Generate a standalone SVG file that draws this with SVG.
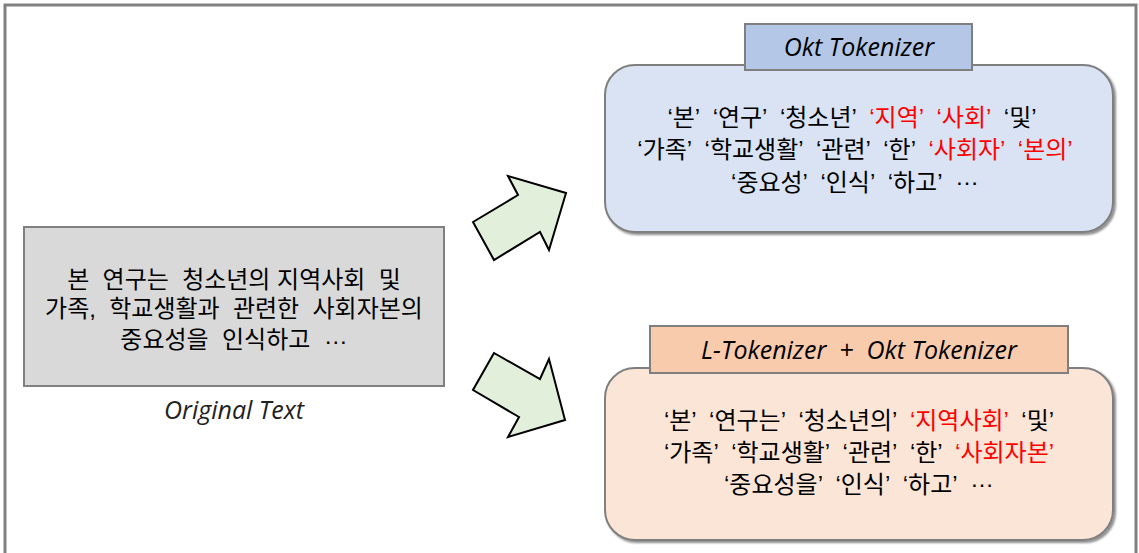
<svg xmlns="http://www.w3.org/2000/svg" width="1139" height="553" viewBox="0 0 1139 553">
<defs>
<style>
.kr{font-family:'Liberation Sans','Noto Sans CJK KR',sans-serif;font-size:24px;fill:#000;text-anchor:middle}
.red{fill:#ff0000}
.lbl{font-family:'Open Sans','DejaVu Sans',sans-serif;font-style:italic;font-size:25px;fill:#000;text-anchor:middle}
.arrow{fill:#e2efda;stroke:#000;stroke-width:2;stroke-linejoin:miter}
.box{stroke:#7f7f7f;stroke-width:2}
</style>
<filter id="sh" x="-5%" y="-5%" width="112%" height="115%">
<feDropShadow dx="2" dy="2" stdDeviation="1.2" flood-color="#000" flood-opacity="0.45"/>
</filter>
</defs>
<rect width="1139" height="553" fill="#fff"/>
<path d="M5 560 V5 H1136 V560" fill="none" stroke="#808080" stroke-width="3"/>

<g id="original">
<rect x="24" y="227" width="420" height="159" fill="#d9d9d9" stroke="#808080" stroke-width="2"/>
<text class="kr" x="234" y="288" xml:space="preserve">본  연구는  청소년의 지역사회  및</text>
<text class="kr" x="234" y="317" xml:space="preserve">가족,  학교생활과  관련한  사회자본의</text>
<text class="kr" x="234" y="348" xml:space="preserve">중요성을  인식하고  <tspan dy="-4">…</tspan></text>
<text class="lbl" x="234" y="419" style="fill:#222">Original Text</text>
</g>

<g id="okt">
<rect x="605" y="65" width="508" height="167" rx="30" ry="30" fill="#dae3f3" class="box" filter="url(#sh)"/>
<rect x="745" y="24" width="227" height="46" fill="#b4c7e7" class="box"/>
<text class="lbl" x="859" y="56">Okt Tokenizer</text>
<text class="kr" x="852" y="126" xml:space="preserve">‘본’  ‘연구’  ‘청소년’  <tspan class="red">‘지역’  ‘사회’</tspan>  ‘및’</text>
<text class="kr" x="855" y="158" xml:space="preserve">‘가족’  ‘학교생활’  ‘관련’  ‘한’  <tspan class="red">‘사회자’  ‘본의’</tspan></text>
<text class="kr" x="855" y="191" xml:space="preserve">‘중요성’  ‘인식’  ‘하고’  <tspan dy="-6">…</tspan></text>
</g>

<g id="ltok">
<rect x="605" y="368" width="508" height="172" rx="30" ry="30" fill="#fbe5d6" class="box" filter="url(#sh)"/>
<rect x="650" y="326" width="418" height="47" fill="#f8cbad" class="box"/>
<text class="lbl" x="859" y="359" xml:space="preserve">L-Tokenizer  +  Okt Tokenizer</text>
<text class="kr" x="859" y="429" xml:space="preserve">‘본’  ‘연구는’  ‘청소년의’  <tspan class="red">‘지역사회’</tspan>  ‘및’</text>
<text class="kr" x="859" y="461" xml:space="preserve">‘가족’  ‘학교생활’  ‘관련’  ‘한’  <tspan class="red">‘사회자본’</tspan></text>
<text class="kr" x="859" y="493" xml:space="preserve">‘중요성을’  ‘인식’  ‘하고’  <tspan dy="-6">…</tspan></text>
</g>

<g id="connectors">
<polygon class="arrow" points="473,222 494,260 540,232 549,250 566,193 508,176 518,195"/>
<polygon class="arrow" points="494,353 473,390 519,417 508,437 565,420 549,359 540,379"/>
</g>
</svg>
